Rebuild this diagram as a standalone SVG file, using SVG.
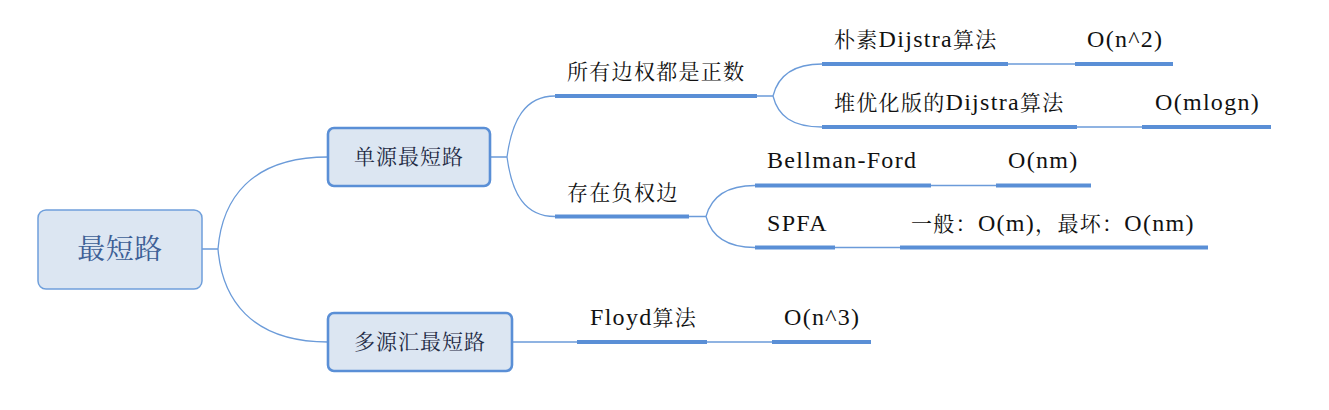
<svg xmlns="http://www.w3.org/2000/svg" width="1329" height="410" viewBox="0 0 1329 410">
<style>
text{font-family:"Liberation Serif","Noto Serif CJK SC","Noto Sans CJK SC",serif;font-size:21px;fill:#111;letter-spacing:1.3px}
.l{font-size:24px}
.bt{font-size:21px;fill:#1f2b45;text-anchor:middle;letter-spacing:1px}
.rt{font-size:28px;fill:#3d5f96;text-anchor:middle;letter-spacing:0.5px}
.thin{fill:none;stroke:#6b9bd9;stroke-width:1.3}
.thick{fill:none;stroke:#5a8fd6;stroke-width:4}
.box1{fill:#dce6f2;stroke:#6f9fdb;stroke-width:1.5}
.box2{fill:#dce6f2;stroke:#5a8fd6;stroke-width:2.6}
</style>
<rect width="1329" height="410" fill="#fff"/>
<g id="connectors">
<path class="thin" d="M202,249 H218 M218,249 C222,200 250,157 328,157 M218,249 C222,298 250,342 328,342"/>
<path class="thin" d="M490,157 H507 M507,157 C512,120 525,96 555,96 M507,157 C512,194 525,216.5 555,216.5"/>
<path class="thin" d="M757,96 H773 M773,96 C778,76 792,64 822,64 M773,96 C778,116 792,127 822,127"/>
<path class="thin" d="M689,216.5 H706 M706,216.5 C711,198 725,185.5 755,185.5 M706,216.5 C711,235 725,247.5 755,247.5"/>
<path class="thin" d="M1008,64 H1075 M1077,127 H1142 M931,185.5 H996 M835,247.5 H900 M512,342 H577 M707,342 H772"/>
<path class="thick" d="M555,96 H757 M555,216.5 H689 M822,64 H1008 M1075,64 H1173 M822,127 H1077 M1142,127 H1271 M755,185.5 H931 M996,185.5 H1091 M755,247.5 H835 M900,247.5 H1208 M577,342 H707 M772,342 H871"/>
</g>
<g id="root"><rect class="box1" x="38" y="210" width="164" height="79" rx="8"/><text class="rt" x="120" y="259">最短路</text></g>
<g id="single"><rect class="box2" x="328" y="128" width="162" height="58" rx="6"/><text class="bt" x="409" y="164">单源最短路</text></g>
<g id="multi"><rect class="box2" x="328" y="313" width="184" height="58" rx="6"/><text class="bt" x="420" y="349">多源汇最短路</text></g>
<g id="positive"><text x="567" y="79">所有边权都是正数</text></g>
<g id="negative"><text x="567" y="200">存在负权边</text></g>
<g id="naive"><text x="834" y="47">朴素<tspan class="l">Dijstra</tspan>算法</text><text class="l" x="1087" y="47">O(n^2)</text></g>
<g id="heap"><text x="834" y="110">堆优化版的<tspan class="l">Dijstra</tspan>算法</text><text class="l" x="1155" y="110">O(mlogn)</text></g>
<g id="bellman"><text class="l" x="767" y="168">Bellman-Ford</text><text class="l" x="1008" y="168">O(nm)</text></g>
<g id="spfa"><text class="l" x="767" y="231">SPFA</text><text x="911" y="231">一般：<tspan class="l">O(m)</tspan>，最坏：<tspan class="l">O(nm)</tspan></text></g>
<g id="floyd"><text x="590" y="325"><tspan class="l">Floyd</tspan>算法</text><text class="l" x="784" y="325">O(n^3)</text></g>
</svg>
